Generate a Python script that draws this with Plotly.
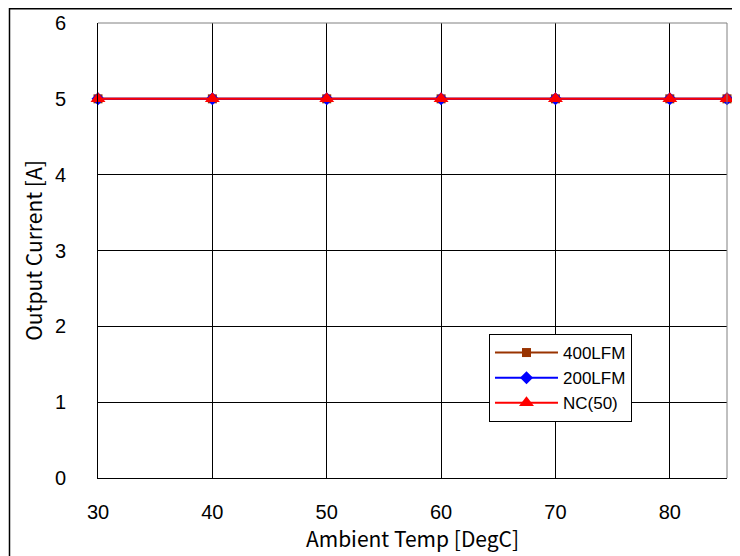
import plotly.graph_objects as go

temps = [30, 40, 50, 60, 70, 80, 85]
lfm400 = [5, 5, 5, 5, 5, 5, 5]
lfm200 = [5, 5, 5, 5, 5, 5, 5]
nc50 = [5, 5, 5, 5, 5, 5, 5]

series = [
    ("400LFM", lfm400, "#993300", "square", 9),
    ("200LFM", lfm200, "#0000ff", "diamond", 10),
    ("NC(50)", nc50, "#ff0000", "triangle-up", 13),
]

tick_font = dict(family="Liberation Sans, Arial", size=20, color="black")
jp_font = dict(family="Noto Sans CJK JP", size=21, color="black")

fig = go.Figure()
for name, ys, color, symbol, msize in series:
    fig.add_trace(go.Scatter(
        x=temps, y=ys, name=name, mode="lines+markers",
        line=dict(color=color, width=2),
        marker=dict(symbol=symbol, size=msize, color=color),
        cliponaxis=False,
    ))

fig.update_xaxes(
    range=[30, 85], tickvals=[30, 40, 50, 60, 70, 80],
    showgrid=True, gridcolor="black", gridwidth=1, zeroline=False,
    showline=True, linecolor="black", linewidth=1, automargin=False,
    ticks="", ticklabelstandoff=16, tickfont=tick_font,
    title=dict(text="Ambient Temp [DegC]", font=jp_font, standoff=2),
)
fig.update_yaxes(
    range=[0, 6], dtick=1,
    showgrid=True, gridcolor="black", gridwidth=1, zeroline=False,
    showline=True, linecolor="black", linewidth=1, automargin=False,
    ticks="", ticklabelstandoff=27, tickfont=tick_font,
    title=dict(text="Output Current [A]", font=jp_font, standoff=6),
)

# grey top/right plot frame
fig.add_shape(type="line", xref="paper", yref="paper", x0=0, x1=1, y0=1, y1=1,
              line=dict(color="#808080", width=1))
fig.add_shape(type="line", xref="paper", yref="paper", x0=1, x1=1, y0=0, y1=1,
              line=dict(color="#808080", width=1))
# outer chart border
fig.add_shape(type="rect", xref="paper", yref="paper",
              x0=-0.1407, x1=1.2, y0=-0.3, y1=1.0313,
              line=dict(color="black", width=1.5), layer="above")

fig.update_layout(
    width=740, height=556,
    margin=dict(l=90, r=21, t=15, b=86),
    paper_bgcolor="white", plot_bgcolor="white",
    showlegend=True,
    legend=dict(
        x=0.6216, y=0.3165, xanchor="left", yanchor="top",
        bgcolor="white", bordercolor="black", borderwidth=1,
        font=dict(family="Liberation Sans, Arial", size=17, color="black"),
        tracegroupgap=0, itemwidth=63,
    ),
)

fig.write_html("out.html")
